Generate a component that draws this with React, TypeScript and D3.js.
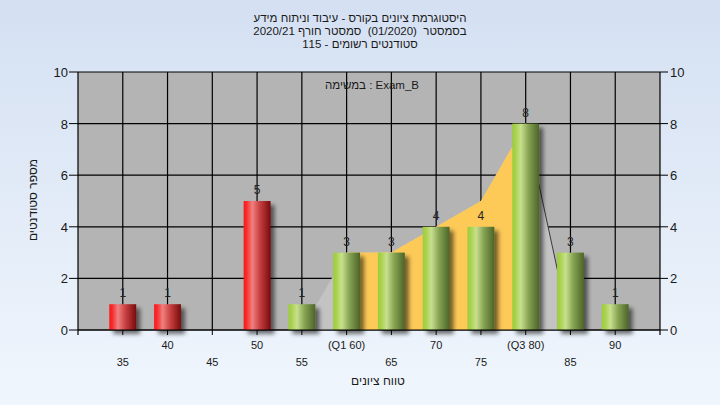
import React from "react";
import * as d3 from "d3";

const categories = [35, 40, 45, 50, 55, 60, 65, 70, 75, 80, 85, 90];
const counts = [1, 1, 0, 5, 1, 3, 3, 4, 4, 8, 3, 1];
const failThreshold = 55;
const tickLabels = ["35", "40", "45", "50", "55", "(Q1 60)", "65", "70", "75", "(Q3 80)", "85", "90"];
const yTicks = [0, 2, 4, 6, 8, 10];
const areaX = [55, 60, 65, 70, 75, 80, 85];
const areaY = [0, 3, 3, 4, 5, 8, 0];
const q1 = 60;
const q3 = 80;

const titleLines = [
  "היסטוגרמת ציונים בקורס - עיבוד וניתוח מידע",
  "בסמסטר  (01/2020)  סמסטר חורף 2020/21",
  "סטודנטים רשומים - 115",
];
const subtitle = "במשימה : Exam_B";
const yTitle = "מספר סטודנטים";
const xTitle = "טווח ציונים";

const W = 720, H = 405;
const L = 78, R = 660, T = 72, B = 330;
const font = "'Liberation Sans', Arial, sans-serif";

export default function App() {
  const x = d3.scaleLinear().domain([30, 95]).range([L, R]);
  const y = d3.scaleLinear().domain([0, 10]).range([B, T]);
  const barW = x(33) - x(30);
  const pts: [number, number][] = areaX.map((v, i) => [v, areaY[i]]);
  const area = d3.area<[number, number]>().x(d => x(d[0])).y0(y(0)).y1(d => y(d[1]));
  const line = d3.line<[number, number]>().x(d => x(d[0])).y(d => y(d[1]));
  const tail = pts.slice(pts.length - 2);

  return (
    <svg width={W} height={H} style={{ position: "absolute", left: 0, top: 0 }} fontFamily={font}>
      <defs>
        <linearGradient id="bg" x1="0" y1="0" x2="0" y2="1">
          <stop offset="0" stopColor="#d4e0f2" />
          <stop offset="1" stopColor="#f0f6fd" />
        </linearGradient>
        <linearGradient id="red" x1="0" y1="0" x2="1" y2="0">
          <stop offset="0" stopColor="#ff1414" />
          <stop offset="0.12" stopColor="#f53030" />
          <stop offset="0.32" stopColor="#f08080" />
          <stop offset="0.6" stopColor="#c84040" />
          <stop offset="1" stopColor="#780c0c" />
        </linearGradient>
        <linearGradient id="green" x1="0" y1="0" x2="1" y2="0">
          <stop offset="0" stopColor="#9ccc3c" />
          <stop offset="0.12" stopColor="#a8d24c" />
          <stop offset="0.32" stopColor="#c8e08e" />
          <stop offset="0.6" stopColor="#87a454" />
          <stop offset="1" stopColor="#4c6428" />
        </linearGradient>
        <filter id="shadow" x="-50%" y="-50%" width="200%" height="200%">
          <feDropShadow dx="4" dy="4" stdDeviation="2" floodColor="#000" floodOpacity="0.55" />
        </filter>
        <clipPath id="iqr">
          <rect x={x(q1)} y={T} width={x(q3) - x(q1)} height={B - T} />
        </clipPath>
      </defs>
      <rect width={W} height={H} fill="url(#bg)" />
      {titleLines.map((t, i) => (
        <text key={i} x={360} y={22 + i * 13} fontSize={11.5} textAnchor="middle" direction="rtl" fill="#1a1a1a" style={{ whiteSpace: "pre" }}>{t}</text>
      ))}
      <rect x={L} y={T} width={R - L} height={B - T} fill="#b4b4b4" />
      {yTicks.map(t => (
        <line key={"h" + t} x1={L} x2={R} y1={y(t)} y2={y(t)} stroke="#000" strokeWidth={1.2} />
      ))}
      {categories.map(c => (
        <line key={"v" + c} x1={x(c)} x2={x(c)} y1={T} y2={B} stroke="#000" strokeWidth={1.2} />
      ))}
      <path d={area(pts) || ""} fill="#c3c3c3" />
      <path d={area(pts) || ""} fill="#fdca58" clipPath="url(#iqr)" />
      <path d={line(tail) || ""} fill="none" stroke="#3a3a3a" strokeWidth={1} />
      <text x={372} y={89} fontSize={11.5} textAnchor="middle" fill="#1a1a1a">{subtitle}</text>
      {categories.map((c, i) => counts[i] > 0 ? (
        <rect key={"b" + c} x={x(c) - barW / 2} y={y(counts[i])} width={barW} height={y(0) - y(counts[i])}
          fill={c < failThreshold ? "url(#red)" : "url(#green)"} filter="url(#shadow)" />
      ) : null)}
      {categories.map((c, i) => counts[i] > 0 ? (
        <text key={"l" + c} x={x(c)} y={y(counts[i]) - 7} fontSize={12} textAnchor="middle" fill="#222">{counts[i]}</text>
      ) : null)}
      <line x1={L} x2={L} y1={T} y2={B + 5} stroke="#000" strokeWidth={1.2} />
      <line x1={R} x2={R} y1={T} y2={B + 5} stroke="#000" strokeWidth={1.2} />
      <line x1={L} x2={R} y1={B} y2={B} stroke="#000" strokeWidth={1.2} />
      {yTicks.map(t => (
        <g key={"yt" + t}>
          <line x1={L - 9} x2={L} y1={y(t)} y2={y(t)} stroke="#000" />
          <text x={L - 10} y={y(t) + 5} fontSize={13} textAnchor="end" fill="#1a1a1a">{t}</text>
          <line x1={R} x2={R + 8} y1={y(t)} y2={y(t)} stroke="#000" />
          <text x={R + 10} y={y(t) + 5} fontSize={13} textAnchor="start" fill="#1a1a1a">{t}</text>
        </g>
      ))}
      {categories.map((c, i) => (
        <g key={"xt" + c}>
          <line x1={x(c)} x2={x(c)} y1={B} y2={B + 5} stroke="#000" />
          <text x={x(c)} y={i % 2 === 1 ? 349 : 366} fontSize={11} textAnchor="middle" fill="#1a1a1a">{tickLabels[i]}</text>
        </g>
      ))}
      <text x={378} y={385} fontSize={12} textAnchor="middle" fill="#1a1a1a">{xTitle}</text>
      <text transform={`translate(37,200) rotate(-90)`} fontSize={12} textAnchor="middle" fill="#1a1a1a">{yTitle}</text>
    </svg>
  );
}
